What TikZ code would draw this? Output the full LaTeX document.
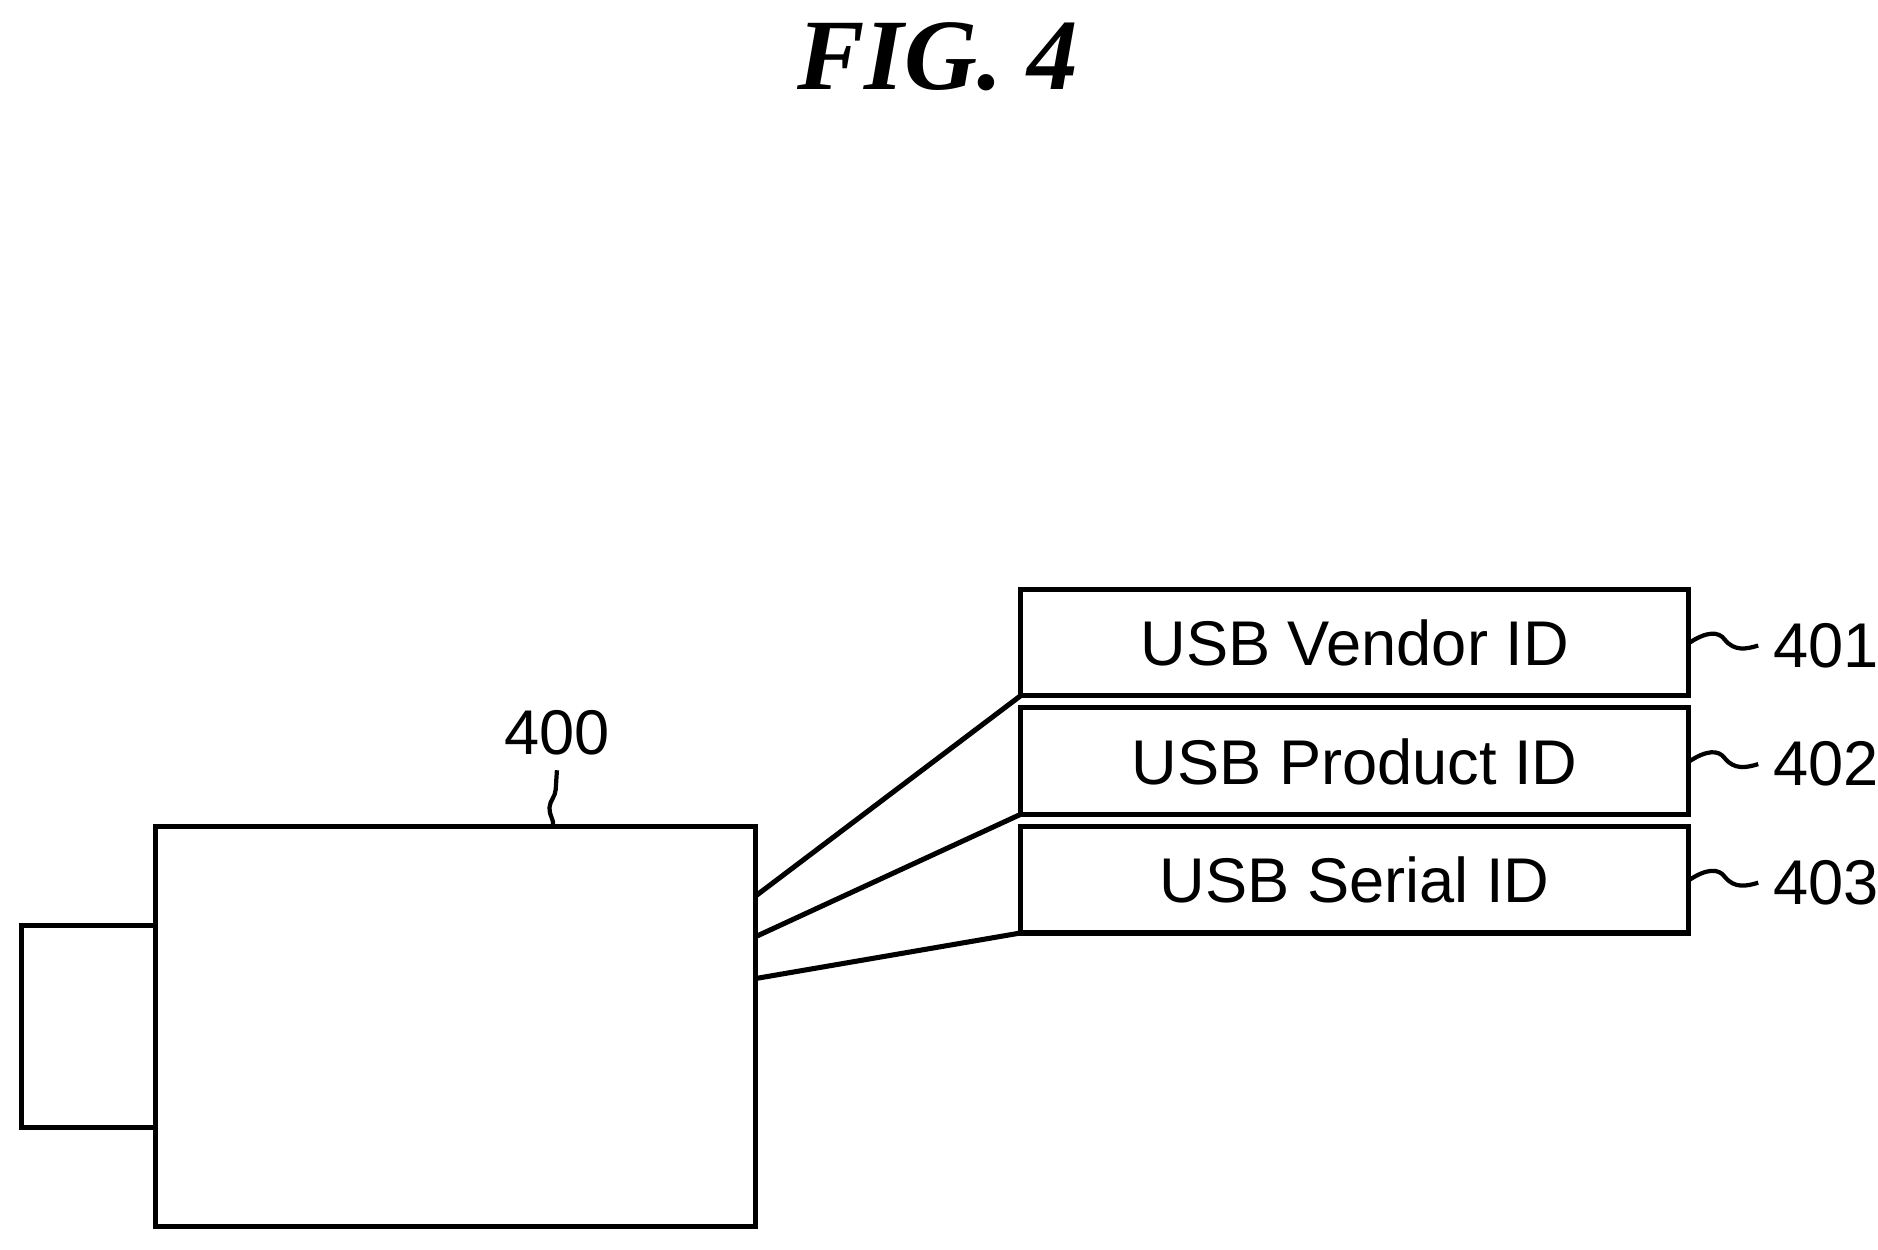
\documentclass[tikz,border=0pt]{standalone}
\usepackage{fontspec}
\setmainfont{Liberation Sans}
\newfontfamily\titlefont{Liberation Serif}
\usetikzlibrary{decorations.pathmorphing}
\begin{document}
\begin{tikzpicture}[x=0.01cm,y=-0.01cm,
  box/.style={draw,line width=1.2pt,minimum width=558\pgflinewidth,inner sep=0pt},
  idbox/.style={draw,line width=1.2pt,font=\fontsize{15}{18}\selectfont},
  lbl/.style={font=\fontsize{15}{18}\selectfont},
  sq/.style={line width=1pt,decorate,decoration={snake,amplitude=1.2pt,segment length=14pt}}]
\useasboundingbox (0,0) rectangle (1568,1043);
\node[font=\titlefont\bfseries\itshape\fontsize{24}{28}\selectfont] (title) at (783,47) {FIG. 4};
\draw[line width=1.2pt] (18,773) rectangle (130,941);
\draw[line width=1.2pt] (130,690) rectangle (631,1024);
\coordinate (b1) at (631,748);
\coordinate (b2) at (631,782);
\coordinate (b3) at (631,817);
\coordinate (top) at (462,690);
\node[lbl] (l400) at (465,612) {400};
\draw[sq] (top) -- (l400.south);
\foreach \i/\y/\t in {1/492/USB Vendor ID,2/591/USB Product ID,3/690/USB Serial ID}{
  \draw[line width=1.2pt] (852,\y) rectangle (1410,\y+89);
  \node[lbl] (t\i) at (1131,\y+45) {\t};
  \coordinate (r\i) at (1410,\y+45);
  \node[lbl,anchor=west] (n\i) at (1468,\y+47) {40\i};
  \draw[line width=1pt] (r\i) .. controls (1425,\y+35) and (1435,\y+35) .. (1440,\y+42) .. controls (1448,\y+52) and (1458,\y+50) .. (n\i.west);
}
\draw[line width=1.2pt] (b1) -- (852,581);
\draw[line width=1.2pt] (b2) -- (852,680);
\draw[line width=1.2pt] (b3) -- (852,779);
\end{tikzpicture}
\end{document}
